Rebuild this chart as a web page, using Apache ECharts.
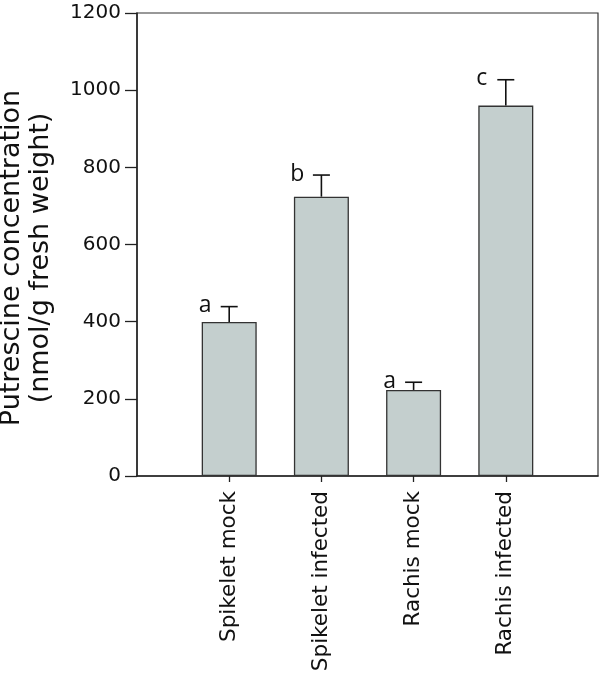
<!DOCTYPE html>
<html>
<head>
<meta charset="utf-8">
<script src="https://cdn.jsdelivr.net/npm/echarts@6/dist/echarts.min.js"></script>
<style>
html,body{margin:0;padding:0;background:#fff;}
#chart{width:600px;height:676px;}
</style>
</head>
<body>
<div id="chart"></div>
<script>
// Data
var categories = ['Spikelet mock', 'Spikelet infected', 'Rachis mock', 'Rachis infected'];
var means = [399, 724, 223, 960];
var errors = [40, 56, 20, 67];
var letters = ['a', 'b', 'a', 'c'];
var yTicks = [0, 200, 400, 600, 800, 1000, 1200];

// Axis slots: padding slot on each side
var axisCats = [''].concat(categories, ['']);
var barData = [null].concat(means, [null]);
var errData = categories.map(function (c, i) { return [i + 1, means[i], errors[i], letters[i]]; });

var chart = echarts.init(document.getElementById('chart'), null, {renderer: 'canvas'});
var labelFont = '"DejaVu Sans", Verdana, sans-serif';

chart.setOption({
  animation: false,
  backgroundColor: '#fff',
  grid: {
    left: 137, right: 2, top: 13, bottom: 200,
    outerBoundsMode: 'none', containLabel: false,
    show: true, borderColor: '#333', borderWidth: 1.2, backgroundColor: 'transparent'
  },
  xAxis: {
    type: 'category',
    data: axisCats,
    boundaryGap: false,
    axisLine: {lineStyle: {color: '#222', width: 1.5}},
    axisTick: {
      length: 6, inside: false,
      interval: function (idx) { return idx >= 1 && idx <= categories.length; },
      lineStyle: {color: '#222', width: 1.3}
    },
    axisLabel: {
      rotate: 90, margin: 15, fontSize: 21.5, color: '#111', fontFamily: labelFont,
      interval: function (idx) { return idx >= 1 && idx <= categories.length; }
    },
    splitLine: {show: false}
  },
  yAxis: {
    type: 'value',
    min: yTicks[0], max: yTicks[yTicks.length - 1], interval: yTicks[1] - yTicks[0],
    name: 'Putrescine concentration\n(nmol/g fresh weight)',
    nameLocation: 'middle',
    nameRotate: 90,
    nameGap: 82,
    nameTextStyle: {fontSize: 27, color: '#111', fontFamily: labelFont, lineHeight: 29, align: 'center',
      padding: [0, 27, 0, 0]},
    axisLine: {show: true, lineStyle: {color: '#222', width: 1.5}},
    axisTick: {show: true, length: 12, inside: false, lineStyle: {color: '#222', width: 1.3}},
    axisLabel: {margin: 16, fontSize: 20, color: '#111', fontFamily: labelFont,
      formatter: function (v) { return String(v); }},
    splitLine: {show: false}
  },
  series: [
    {
      type: 'bar',
      data: barData,
      barWidth: 55,
      itemStyle: {color: '#c4cfce', borderColor: '#333', borderWidth: 1.3},
      z: 2
    },
    {
      type: 'custom',
      data: errData,
      z: 3,
      renderItem: function (params, api) {
        var x = api.value(0), m = api.value(1), e = api.value(2);
        var letter = errData[params.dataIndex][3];
        var p0 = api.coord([x, m]);
        var p1 = api.coord([x, m + e]);
        var hw = 8.5;
        return {
          type: 'group',
          children: [
            {type: 'line', shape: {x1: p0[0], y1: p0[1], x2: p1[0], y2: p1[1]}, style: {stroke: '#111', lineWidth: 1.6}},
            {type: 'line', shape: {x1: p1[0] - hw, y1: p1[1], x2: p1[0] + hw, y2: p1[1]}, style: {stroke: '#111', lineWidth: 1.6}},
            {type: 'text', x: p1[0] - 24, y: p1[1] - 1,
              style: {text: letter, font: '23px "Open Sans", sans-serif', fill: '#111', align: 'center', verticalAlign: 'middle'}}
          ]
        };
      }
    }
  ]
});
</script>
</body>
</html>
